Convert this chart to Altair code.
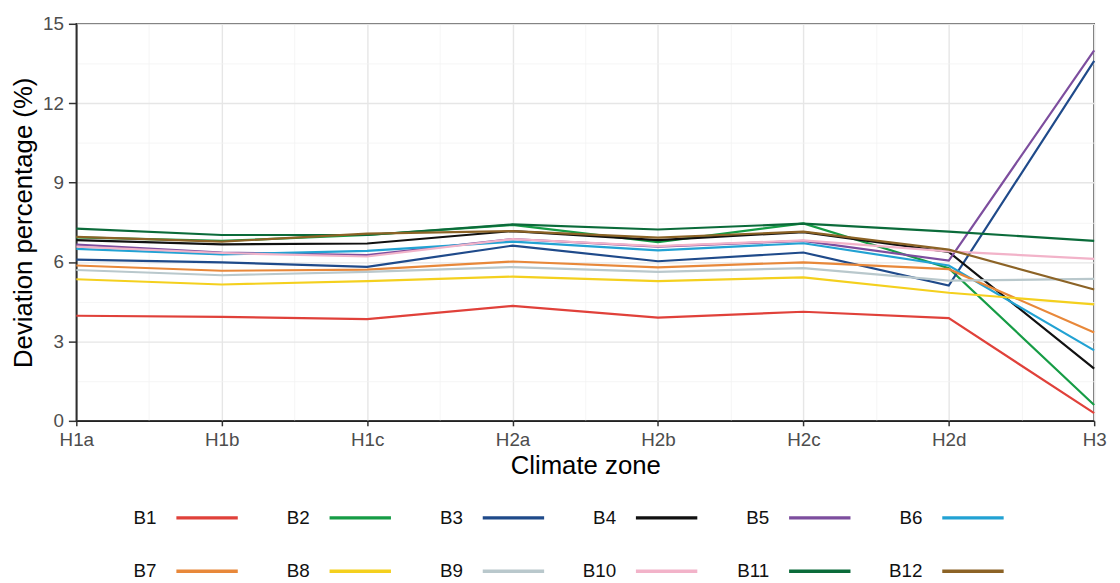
import json
import altair as alt
import pandas as pd

zones = ["H1a", "H1b", "H1c", "H2a", "H2b", "H2c", "H2d", "H3"]
series = ["B1", "B2", "B3", "B4", "B5", "B6", "B7", "B8", "B9", "B10", "B11", "B12"]
colors = ["#e0413a", "#169c45", "#1f4a8a", "#111111", "#7d4e9e", "#22a2d3",
          "#e8883a", "#f4d01e", "#b9c8cc", "#f2b3c9", "#0b6b3a", "#8c6326"]

B1 = [3.97, 3.93, 3.84, 4.34, 3.90, 4.12, 3.88, 0.29]
B2 = [6.93, 6.80, 7.02, 7.40, 6.75, 7.46, 5.77, 0.60]
B3 = [6.09, 5.99, 5.82, 6.62, 6.03, 6.36, 5.11, 13.60]
B4 = [6.83, 6.67, 6.70, 7.17, 6.83, 7.13, 6.38, 1.97]
B5 = [6.66, 6.36, 6.26, 6.87, 6.58, 6.80, 6.05, 14.00]
B6 = [6.50, 6.29, 6.42, 6.77, 6.44, 6.71, 5.87, 2.66]
B7 = [5.87, 5.67, 5.71, 6.02, 5.80, 5.99, 5.73, 3.34]
B8 = [5.35, 5.15, 5.28, 5.45, 5.28, 5.42, 4.84, 4.40]
B9 = [5.70, 5.50, 5.63, 5.81, 5.63, 5.77, 5.30, 5.36]
B10 = [6.58, 6.34, 6.21, 6.87, 6.60, 6.82, 6.40, 6.12]
B11 = [7.26, 7.02, 7.02, 7.42, 7.23, 7.45, 7.15, 6.80]
B12 = [6.95, 6.77, 7.07, 7.17, 6.92, 7.15, 6.47, 4.96]

values = [B1, B2, B3, B4, B5, B6, B7, B8, B9, B10, B11, B12]

rows = []
for k, (name, vals) in enumerate(zip(series, values)):
    for i, v in enumerate(vals):
        rows.append({"series": name, "zone": zones[i], "idx": i, "value": v, "k": k})
df = pd.DataFrame(rows)

FONT = "Liberation Sans"
label_expr = "datum.value % 1 === 0 ? " + json.dumps(zones) + "[datum.value] : ''"
x_vals = [i * 0.5 for i in range(2 * (len(zones) - 1) + 1)]
y_vals = [i * 1.5 for i in range(11)]

x_axis = alt.Axis(
    values=x_vals, labelExpr=label_expr, title="Climate zone",
    labelFlush=False, labelOverlap=False, labelFont=FONT, labelFontSize=19,
    labelColor="#4d4d4d", labelPadding=5, titleFont=FONT, titleFontSize=26,
    titleFontWeight="normal", titleColor="#000000", titlePadding=3,
    grid=True,
    gridColor={"condition": {"test": "datum.value % 1 !== 0", "value": "#f2f2f2"}, "value": "#e6e6e6"},
    gridWidth={"condition": {"test": "datum.value % 1 !== 0", "value": 0.8}, "value": 1.4},
    tickOpacity={"condition": {"test": "datum.value % 1 !== 0", "value": 0}, "value": 1},
    tickSize=5, tickWidth=1.5, tickColor="#333333",
    domainColor="#222222", domainWidth=1.5,
)
y_axis = alt.Axis(
    values=y_vals, labelExpr="datum.value % 3 === 0 ? datum.label : ''",
    title="Deviation percentage (%)",
    labelOverlap=False, labelFont=FONT, labelFontSize=19, labelColor="#4d4d4d",
    labelPadding=5, titleFont=FONT, titleFontSize=26, titleFontWeight="normal",
    titleColor="#000000", titlePadding=6,
    grid=True,
    gridColor={"condition": {"test": "datum.value % 3 !== 0", "value": "#f2f2f2"}, "value": "#e6e6e6"},
    gridWidth={"condition": {"test": "datum.value % 3 !== 0", "value": 0.8}, "value": 1.4},
    tickOpacity={"condition": {"test": "datum.value % 3 !== 0", "value": 0}, "value": 1},
    tickSize=8, tickWidth=1.5, tickColor="#333333",
    domainColor="#222222", domainWidth=1.5,
)

main = alt.Chart(df).mark_line(strokeWidth=2.2).encode(
    x=alt.X("idx:Q", scale=alt.Scale(domain=[0, len(zones) - 1], nice=False, zero=False), axis=x_axis),
    y=alt.Y("value:Q", scale=alt.Scale(domain=[0, 15], nice=False), axis=y_axis),
    color=alt.Color("series:N", scale=alt.Scale(domain=series, range=colors), legend=None),
    order=alt.Order("idx:Q"),
).properties(width=1028, height=401)

leg_df = pd.DataFrame({
    "series": series,
    "col": [i % 6 for i in range(len(series))],
    "row": [i // 6 for i in range(len(series))],
})
leg_base = alt.Chart(leg_df).encode(
    x=alt.X("col:Q", scale=alt.Scale(domain=[-0.524, 5.94], nice=False, zero=False), axis=None),
    y=alt.Y("row:Q", scale=alt.Scale(domain=[-0.5, 1.5], nice=False, zero=False, reverse=True), axis=None),
)
leg_text = leg_base.mark_text(align="right", baseline="middle", font=FONT, fontSize=19,
                              color="#111111").encode(text="series:N")
leg_sym = leg_base.mark_point(shape="stroke", size=3844, strokeWidth=3.5, filled=False,
                              opacity=1, xOffset=51).encode(
    color=alt.Color("series:N", scale=alt.Scale(domain=series, range=colors), legend=None)
)
legend = alt.layer(leg_text, leg_sym).properties(
    width=1000, height=108, view=alt.ViewBackground(strokeOpacity=0)
)

chart = alt.vconcat(main, legend, spacing=12).properties(
    padding={"left": 2, "top": 3, "right": 5, "bottom": 0}
).configure_view(stroke="#222222", strokeWidth=1.5)

chart.save("out.html", embed_options={"renderer": "svg", "actions": False})
